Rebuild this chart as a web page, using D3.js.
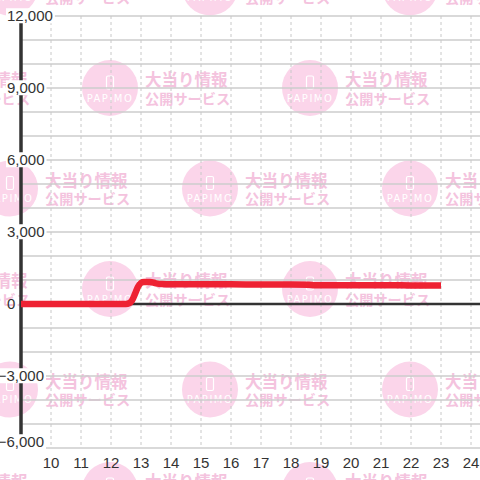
<!DOCTYPE html>
<html><head><meta charset="utf-8">
<script src="https://cdn.jsdelivr.net/npm/d3@7"></script>
<style>html,body{margin:0;padding:0;background:#fff;}svg{display:block;}</style>
</head><body>
<svg id="c" width="480" height="480"></svg>
<script>
const xTicks = [10,11,12,13,14,15,16,17,18,19,20,21,22,23,24];
const yTicks = [-6000,-3000,0,3000,6000,9000,12000];
const yGrid = [-6000,-5000,-4000,-3000,-2000,-1000,0,1000,2000,3000,4000,5000,6000,7000,8000,9000,10000,11000,12000];
const seriesX = [9, 10, 11, 12, 12.5, 12.6, 12.7, 12.8, 12.9, 13.0, 13.1, 13.3, 13.5, 13.7, 14, 15, 16, 17, 18, 18.6, 18.8, 19, 20, 21, 22, 23];
const seriesY = [0, 0, 0, 0, 0, 30, 150, 420, 720, 880, 920, 920, 860, 830, 820, 820, 820, 810, 810, 805, 780, 780, 780, 780, 775, 770];
const wmLine1 = "大当り情報";
const wmLine2 = "公開サービス";
const wmBrand = "PAPIMO";

const svg = d3.select("#c");
const x = d3.scaleLinear().domain([9, 25]).range([21, 501]);
const y = d3.scaleLinear().domain([-6000, 12000]).range([448, 16]);

// watermark lattice: even rows -> x = 110,310 ; odd rows -> 10,210,410
const wm = svg.append("g");
const pts = [];
for (let j = -1; j <= 4; j++) {
  const off = (j % 2 === 0) ? 110 : 10;
  for (let cx = off - 200; cx <= 520; cx += 200) pts.push([cx, 88 + 100.5 * j]);
}
pts.forEach(([cx, cy]) => {
  const g = wm.append("g").attr("transform", `translate(${cx},${cy})`);
  g.append("circle").attr("r", 28).attr("fill", "#fbd5ea");
  g.append("rect").attr("x", -3.5).attr("y", -12).attr("width", 7).attr("height", 13).attr("rx", 1.5)
    .attr("fill", "none").attr("stroke", "#fff").attr("stroke-width", 1.2);
  g.append("text").attr("x", 0).attr("y", 13.5).attr("text-anchor", "middle")
    .attr("font-family", "DejaVu Sans, sans-serif").attr("font-size", 10).attr("letter-spacing", 1.5)
    .attr("fill", "#fff").text(wmBrand);
  g.append("text").attr("x", 35).attr("y", -2).attr("font-family", "Noto Sans CJK JP").attr("font-weight", 700)
    .attr("font-size", 16.5).attr("fill", "#f4c3de").text(wmLine1);
  g.append("text").attr("x", 35).attr("y", 15.5).attr("font-family", "Noto Sans CJK JP").attr("font-weight", 700)
    .attr("font-size", 14.2).attr("fill", "#f4c3de").text(wmLine2);
});

// grid
svg.append("g").selectAll("line.h").data(yGrid).join("line")
  .attr("x1", x(9)).attr("x2", 480).attr("y1", d => y(d)).attr("y2", d => y(d))
  .attr("stroke", "#cccccc").attr("stroke-width", 1.3);
svg.append("g").selectAll("line.v").data(xTicks).join("line")
  .attr("x1", d => x(d)).attr("x2", d => x(d)).attr("y1", y(12000)).attr("y2", y(-6000))
  .attr("stroke", "#c8c8c8").attr("stroke-width", 1).attr("stroke-dasharray", "3,3");

// y axis line
svg.append("line").attr("x1", x(9)).attr("x2", x(9)).attr("y1", y(12000)).attr("y2", y(-6000))
  .attr("stroke", "#333").attr("stroke-width", 3.5);
// zero line
svg.append("line").attr("x1", x(9)).attr("x2", 480).attr("y1", y(0)).attr("y2", y(0))
  .attr("stroke", "#333").attr("stroke-width", 2.6);

// y labels with white background
const fmt = d3.format(",");
const yl = svg.append("g");
yTicks.forEach(v => {
  const g = yl.append("g");
  const t = g.append("text")
    .attr("x", v < 0 ? 44 : 7).attr("y", y(v) - (v === -6000 ? 6 : 0)).attr("dy", "0.35em")
    .attr("text-anchor", v < 0 ? "end" : "start")
    .attr("font-family", "Liberation Sans, Arial, sans-serif").attr("font-size", 15)
    .attr("fill", "#333").text(fmt(v));
  const b = t.node().getBBox();
  if (v !== 0) {
    g.insert("rect", "text").attr("x", b.x - 1).attr("y", b.y + 1).attr("width", b.width + 3).attr("height", b.height - 2)
      .attr("fill", "#fff");
  }
});

// x labels
svg.append("g").selectAll("text").data(xTicks).join("text")
  .attr("x", d => x(d)).attr("y", 463).attr("dy", "0.35em").attr("text-anchor", "middle")
  .attr("font-family", "Liberation Sans, Arial, sans-serif").attr("font-size", 15)
  .attr("fill", "#333").text(d => d);

// series
const data = seriesX.map((d, i) => [d, seriesY[i]]);
svg.append("path").datum(data)
  .attr("d", d3.line().x(d => x(d[0])).y(d => y(d[1])).curve(d3.curveMonotoneX))
  .attr("fill", "none").attr("stroke", "#ee2233").attr("stroke-width", 6.5)
  .attr("stroke-linejoin", "round").attr("stroke-linecap", "butt");
</script>
</body></html>
